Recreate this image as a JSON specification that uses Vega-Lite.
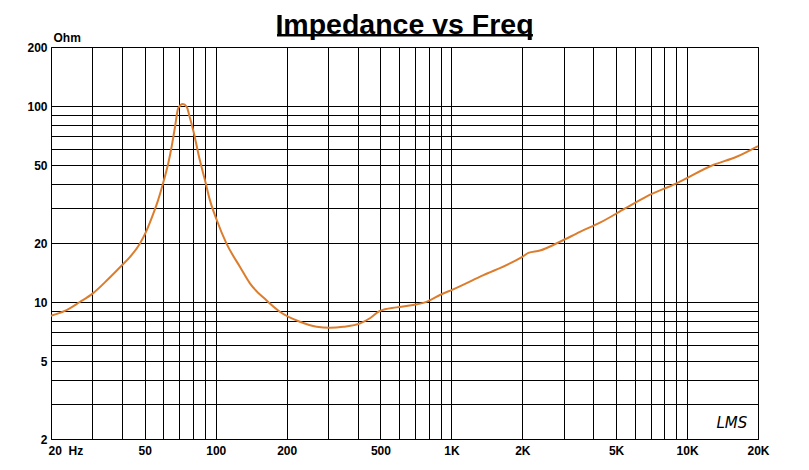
{
  "$schema": "https://vega.github.io/schema/vega-lite/v6.json",
  "width": 707,
  "height": 392,
  "autosize": {"type": "none"},
  "padding": {"left": 51, "top": 47, "right": 51, "bottom": 31},
  "background": "white",
  "title": {
    "text": "Impedance vs Freq",
    "font": "Liberation Sans",
    "fontSize": 28.5,
    "fontWeight": "bold",
    "color": "black",
    "anchor": "middle",
    "frame": "group",
    "offset": -8
  },
  "config": {
    "view": {"stroke": "black", "strokeWidth": 1},
    "axis": {
      "labelFont": "Liberation Sans",
      "labelFontSize": 12,
      "labelFontWeight": "bold",
      "labelColor": "black",
      "titleFont": "Liberation Sans",
      "titleFontSize": 12,
      "titleFontWeight": "bold",
      "titleColor": "black",
      "gridColor": "black",
      "gridOpacity": 1,
      "gridWidth": 1,
      "ticks": false,
      "domain": false,
      "labelOverlap": false,
      "labelBound": false,
      "labelFlush": false
    }
  },
  "layer": [
    {
      "data": {
        "values": [
          {"f": 20, "z": 8.5},
          {"f": 22.9, "z": 9.0},
          {"f": 26.5, "z": 10.0},
          {"f": 30.2, "z": 11.1},
          {"f": 35, "z": 13.1},
          {"f": 40, "z": 15.4},
          {"f": 43.3, "z": 17.0},
          {"f": 47.7, "z": 19.9},
          {"f": 50.6, "z": 22.8},
          {"f": 54.4, "z": 28.3},
          {"f": 57, "z": 33.2},
          {"f": 60.3, "z": 41.9},
          {"f": 62.9, "z": 51},
          {"f": 65, "z": 62},
          {"f": 67.2, "z": 78.4},
          {"f": 69.3, "z": 97.3},
          {"f": 72.5, "z": 102.4},
          {"f": 75.3, "z": 99},
          {"f": 77.8, "z": 86.5},
          {"f": 80.2, "z": 75.4},
          {"f": 85.6, "z": 53},
          {"f": 90, "z": 41.9},
          {"f": 94.4, "z": 33.2},
          {"f": 101, "z": 26.2},
          {"f": 111, "z": 19.9},
          {"f": 126.8, "z": 15.1},
          {"f": 139.7, "z": 12.45},
          {"f": 164, "z": 10.2},
          {"f": 187, "z": 8.92},
          {"f": 227.6, "z": 7.93},
          {"f": 268, "z": 7.48},
          {"f": 305, "z": 7.39},
          {"f": 348, "z": 7.48},
          {"f": 410, "z": 7.78},
          {"f": 451, "z": 8.26},
          {"f": 497, "z": 9.0},
          {"f": 584, "z": 9.39},
          {"f": 688, "z": 9.66},
          {"f": 760, "z": 9.9},
          {"f": 810, "z": 10.2},
          {"f": 894, "z": 10.86},
          {"f": 1018, "z": 11.6},
          {"f": 1368, "z": 13.7},
          {"f": 1772, "z": 15.75},
          {"f": 2000, "z": 17.0},
          {"f": 2121, "z": 17.8},
          {"f": 2376, "z": 18.3},
          {"f": 2890, "z": 20.3},
          {"f": 3512, "z": 22.8},
          {"f": 4272, "z": 25.4},
          {"f": 5460, "z": 30},
          {"f": 6720, "z": 34.5},
          {"f": 9020, "z": 40.3},
          {"f": 12900, "z": 50},
          {"f": 16220, "z": 55.1},
          {"f": 20000, "z": 62.5}
        ]
      },
      "mark": {"type": "line", "color": "#DC7D2E", "strokeWidth": 2, "interpolate": "monotone"},
      "encoding": {
        "x": {
          "field": "f",
          "type": "quantitative",
          "scale": {"type": "log", "domain": [20, 20000], "nice": false},
          "axis": {
            "title": null,
            "grid": true,
            "values": [20, 30, 40, 50, 60, 70, 80, 90, 100, 200, 300, 400, 500, 600, 700, 800, 900, 1000, 2000, 3000, 4000, 5000, 6000, 7000, 8000, 9000, 10000, 20000],
            "labelExpr": "indexof([20,50,100,200,500,1000,2000,5000,10000,20000], datum.value) < 0 ? '' : (datum.value == 20 ? '20\u00a0\u00a0Hz' : (datum.value >= 1000 ? (datum.value / 1000) + 'K' : datum.value + ''))",
            "labelAlign": {"condition": {"test": "datum.value == 20", "value": "left"}, "value": "center"},
            "labelOffset": {"condition": {"test": "datum.value == 20", "value": -3}, "value": 0},
            "labelBaseline": "top",
            "labelPadding": 6
          }
        },
        "y": {
          "field": "z",
          "type": "quantitative",
          "scale": {"type": "log", "domain": [2, 200], "nice": false},
          "axis": {
            "title": "Ohm",
            "titleAngle": 0,
            "titleX": 2,
            "titleY": -6,
            "titleAlign": "left",
            "titleBaseline": "alphabetic",
            "grid": true,
            "values": [2, 3, 4, 5, 6, 7, 8, 9, 10, 20, 30, 40, 50, 60, 70, 80, 90, 100, 200],
            "labelExpr": "indexof([2,5,10,20,50,100,200], datum.value) < 0 ? '' : datum.value + ''",
            "labelBaseline": "middle",
            "labelPadding": 4
          }
        }
      }
    },
    {
      "data": {"values": [{"logo": "LMS"}]},
      "mark": {"type": "text", "font": "DejaVu Sans", "fontStyle": "italic", "fontSize": 15, "color": "black"},
      "encoding": {
        "x": {"datum": 15490},
        "y": {"datum": 2.41},
        "text": {"field": "logo"}
      }
    },
    {
      "data": {"values": [{"part": "title underline"}]},
      "mark": {"type": "rule", "color": "black", "strokeWidth": 2.5, "clip": false},
      "encoding": {
        "x": {"datum": 182},
        "x2": {"datum": 2218},
        "y": {"datum": 229.4}
      }
    }
  ]
}
